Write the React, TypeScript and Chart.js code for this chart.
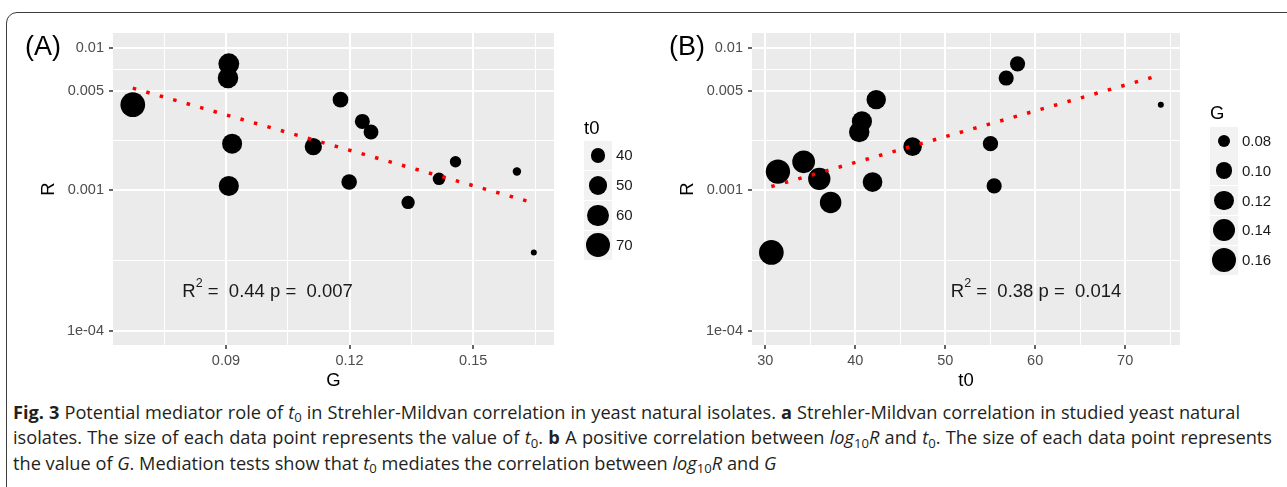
import React, { useEffect, useRef } from 'react';
import { Chart, registerables } from 'chart.js';

Chart.register(...registerables);

// ---------------- DATA ----------------
const G_VALUES = [0.0674, 0.0907, 0.0905, 0.0915, 0.0907, 0.1178, 0.1231, 0.1252, 0.1112, 0.1199, 0.1342, 0.1457, 0.1417, 0.1606, 0.1647];
const T0_VALUES = [73.97, 58.04, 56.78, 55.03, 55.44, 42.33, 40.74, 40.44, 46.37, 41.92, 37.26, 34.26, 36.0, 31.4, 30.67];
const R_VALUES = [0.00398, 0.00774, 0.00614, 0.00211, 0.00106, 0.00432, 0.00303, 0.00255, 0.00201, 0.00113, 0.00081, 0.00157, 0.00119, 0.00134, 0.000359];

// fitted regression lines (end points)
const FIT_A_X = [0.0674, 0.1647];
const FIT_A_R = [0.00521, 0.000803];
const FIT_B_X = [30.67, 73.97];
const FIT_B_R = [0.00105, 0.00646];

// axes
const Y_TICKS = [0.0001, 0.0003162, 0.001, 0.002236, 0.005, 0.007071, 0.01];
const Y_TICK_LABELS = ['1e-04', '', '0.001', '', '0.005', '', '0.01'];
const X_A_TICKS = [0.075, 0.09, 0.105, 0.12, 0.135, 0.15, 0.165];
const X_A_TICK_LABELS = ['', '0.09', '', '0.12', '', '0.15', ''];
const X_B_TICKS = [30, 35, 40, 45, 50, 55, 60, 65, 70, 75];
const X_B_TICK_LABELS = ['30', '', '40', '', '50', '', '60', '', '70', ''];

// legends
const LEGEND_A_VALUES = [40, 50, 60, 70];
const LEGEND_A_LABELS = ['40', '50', '60', '70'];
const LEGEND_B_VALUES = [0.08, 0.1, 0.12, 0.14, 0.16];
const LEGEND_B_LABELS = ['0.08', '0.10', '0.12', '0.14', '0.16'];

// annotations
const ANNOT_A = { x: 0.1001, y: 0.000175, rest: ' =  0.44 p =  0.007' };
const ANNOT_B = { x: 60.1, y: 0.000175, rest: ' =  0.38 p =  0.014' };

// ---------------- STYLE ----------------
const FONT = '"Liberation Sans", Arimo, Arial, sans-serif';
const CAPTION_FONT = '"Open Sans", Lato, sans-serif';

function sizeDiam(v: number, vals: number[]) {
  const mn = Math.min(...vals);
  const mx = Math.max(...vals);
  const r = Math.max(0, Math.min(1, (v - mn) / (mx - mn)));
  return 6 + 18.7 * Math.sqrt(r);
}

type PanelCfg = {
  xVals: number[];
  sizeVals: number[];
  fitX: number[];
  fitR: number[];
  xMin: number;
  xMax: number;
  xTicks: number[];
  xLabels: string[];
  yAxisWidth: number;
  padRight: number;
  xTitle: string;
  annot: { x: number; y: number; rest: string };
};

function makeChart(canvas: HTMLCanvasElement, cfg: PanelCfg) {
  const panelPlugin = {
    id: 'panelDecor',
    beforeDraw(chart: any) {
      const { ctx, chartArea: a } = chart;
      ctx.save();
      ctx.fillStyle = '#EBEBEB';
      ctx.fillRect(a.left, a.top, a.right - a.left, a.bottom - a.top);
      ctx.restore();
    },
    afterDraw(chart: any) {
      const { ctx, chartArea: a } = chart;
      ctx.save();
      ctx.fillStyle = '#000';
      ctx.font = `18.5px ${FONT}`;
      ctx.textAlign = 'center';
      ctx.textBaseline = 'middle';
      ctx.fillText(cfg.xTitle, (a.left + a.right) / 2, a.bottom + 36);
      ctx.save();
      ctx.translate(a.left - 64, (a.top + a.bottom) / 2);
      ctx.rotate(-Math.PI / 2);
      ctx.fillText('R', 0, 0);
      ctx.restore();

      // annotation
      const cx = chart.scales.x.getPixelForValue(cfg.annot.x);
      const by = chart.scales.y.getPixelForValue(cfg.annot.y);
      const big = `18.5px ${FONT}`;
      const small = `12.5px ${FONT}`;
      ctx.font = big;
      const wR = ctx.measureText('R').width;
      const wRest = ctx.measureText(cfg.annot.rest).width;
      ctx.font = small;
      const w2 = ctx.measureText('2').width;
      let x = cx - (wR + w2 + wRest) / 2;
      ctx.textAlign = 'left';
      ctx.textBaseline = 'alphabetic';
      ctx.fillStyle = '#1A1A1A';
      ctx.font = big;
      ctx.fillText('R', x, by);
      x += wR;
      ctx.font = small;
      ctx.fillText('2', x, by - 10);
      x += w2;
      ctx.font = big;
      ctx.fillText(cfg.annot.rest, x, by);
      ctx.restore();
    },
  };

  const pts = cfg.xVals.map((v, i) => ({ x: v, y: R_VALUES[i] }));
  const radii = cfg.sizeVals.map((v) => sizeDiam(v, cfg.sizeVals) / 2);
  const fit = cfg.fitX.map((v, i) => ({ x: v, y: cfg.fitR[i] }));

  const majorX = (i: number) => cfg.xLabels[i] !== '';
  const majorY = (i: number) => Y_TICK_LABELS[i] !== '';

  return new Chart(canvas, {
    type: 'scatter',
    data: {
      datasets: [
        {
          data: fit,
          showLine: true,
          borderColor: '#FF0000',
          borderWidth: 3.5,
          borderDash: [3.5, 10.5],
          borderCapStyle: 'butt',
          pointRadius: 0,
          fill: false,
        } as any,
        {
          data: pts,
          pointRadius: radii,
          pointHoverRadius: radii,
          pointBackgroundColor: '#000000',
          pointBorderWidth: 0,
          pointBorderColor: '#000000',
          showLine: false,
        } as any,
      ],
    },
    options: {
      responsive: false,
      animation: false,
      events: [],
      layout: { padding: { top: 33, right: cfg.padRight, left: 0, bottom: 0 } },
      plugins: { legend: { display: false }, tooltip: { enabled: false } },
      scales: {
        x: {
          type: 'linear',
          min: cfg.xMin,
          max: cfg.xMax,
          afterBuildTicks: (s: any) => {
            s.ticks = cfg.xTicks.map((v) => ({ value: v }));
          },
          afterFit: (s: any) => {
            s.height = 55;
          },
          ticks: {
            autoSkip: false,
            maxRotation: 0,
            padding: 3,
            color: '#4D4D4D',
            font: { family: FONT, size: 14.5 },
            callback: (_v: any, i: number) => cfg.xLabels[i],
          },
          grid: {
            color: '#FFFFFF',
            lineWidth: (c: any) => (majorX(c.index) ? 2 : 1),
            tickColor: (c: any) => (majorX(c.index) ? '#333333' : 'rgba(0,0,0,0)'),
            tickWidth: 1.5,
            tickLength: 4,
            drawTicks: true,
          },
          border: { display: false },
        },
        y: {
          type: 'logarithmic',
          min: 0.0000796,
          max: 0.01278,
          afterBuildTicks: (s: any) => {
            s.ticks = Y_TICKS.map((v) => ({ value: v }));
          },
          afterFit: (s: any) => {
            s.width = cfg.yAxisWidth;
          },
          ticks: {
            autoSkip: false,
            padding: 5,
            color: '#4D4D4D',
            font: { family: FONT, size: 14.5 },
            callback: (_v: any, i: number) => Y_TICK_LABELS[i],
          },
          grid: {
            color: '#FFFFFF',
            lineWidth: (c: any) => (majorY(c.index) ? 2 : 1),
            tickColor: (c: any) => (majorY(c.index) ? '#333333' : 'rgba(0,0,0,0)'),
            tickWidth: 1.5,
            tickLength: 4,
            drawTicks: true,
          },
          border: { display: false },
        },
      },
    },
    plugins: [panelPlugin],
  } as any);
}

function SizeLegend(props: {
  title: string;
  left: number;
  titleY: number;
  firstY: number;
  step: number;
  values: number[];
  labels: string[];
  dataVals: number[];
}) {
  const { title, left, titleY, firstY, step, values, labels, dataVals } = props;
  return (
    <>
      <div
        style={{
          position: 'absolute',
          left,
          top: titleY - 11,
          lineHeight: '22px',
          fontFamily: FONT,
          fontSize: 18.5,
          color: '#000',
        }}
      >
        {title}
      </div>
      {values.map((v, i) => {
        const cy = firstY + i * step;
        const d = sizeDiam(v, dataVals);
        return (
          <React.Fragment key={i}>
            <div
              style={{
                position: 'absolute',
                left,
                top: cy - 14.5,
                width: 28,
                height: 29,
                background: '#F2F2F2',
              }}
            />
            <div
              style={{
                position: 'absolute',
                left: left + 14 - d / 2,
                top: cy - d / 2,
                width: d,
                height: d,
                borderRadius: '50%',
                background: '#000',
              }}
            />
            <div
              style={{
                position: 'absolute',
                left: left + 32,
                top: cy - 10,
                lineHeight: '20px',
                fontFamily: FONT,
                fontSize: 15,
                color: '#1A1A1A',
              }}
            >
              {labels[i]}
            </div>
          </React.Fragment>
        );
      })}
    </>
  );
}

const sub = (s: string) => (
  <span style={{ fontSize: '0.72em', position: 'relative', top: '0.3em' }}>{s}</span>
);

export default function App() {
  const refA = useRef<HTMLCanvasElement | null>(null);
  const refB = useRef<HTMLCanvasElement | null>(null);

  useEffect(() => {
    const a = makeChart(refA.current!, {
      xVals: G_VALUES,
      sizeVals: T0_VALUES,
      fitX: FIT_A_X,
      fitR: FIT_A_R,
      xMin: 0.0626,
      xMax: 0.1696,
      xTicks: X_A_TICKS,
      xLabels: X_A_TICK_LABELS,
      yAxisWidth: 113,
      padRight: 640 - 554,
      xTitle: 'G',
      annot: ANNOT_A,
    });
    const b = makeChart(refB.current!, {
      xVals: T0_VALUES,
      sizeVals: G_VALUES,
      fitX: FIT_B_X,
      fitR: FIT_B_R,
      xMin: 28.52,
      xMax: 76.1,
      xTicks: X_B_TICKS,
      xLabels: X_B_TICK_LABELS,
      yAxisWidth: 112,
      padRight: 647 - 540,
      xTitle: 't0',
      annot: ANNOT_B,
    });
    return () => {
      a.destroy();
      b.destroy();
    };
  }, []);

  const capLine: React.CSSProperties = {
    position: 'absolute',
    left: 13,
    whiteSpace: 'nowrap',
    fontFamily: CAPTION_FONT,
    fontSize: 18.2,
    lineHeight: '25px',
    color: '#231F20',
  };
  const justified: React.CSSProperties = {
    whiteSpace: 'normal',
    textAlign: 'justify',
    textAlignLast: 'justify' as any,
    height: 25,
    overflow: 'visible',
  };

  return (
    <div
      style={{
        position: 'fixed',
        left: 0,
        top: 0,
        width: 1287,
        height: 487,
        overflow: 'hidden',
        background: '#FFFFFF',
      }}
    >
      <div
        style={{
          position: 'absolute',
          left: 6,
          top: 12,
          width: 1320,
          height: 520,
          border: '1.5px solid #3C3C3C',
          borderRadius: 11,
          boxSizing: 'border-box',
        }}
      />
      <canvas
        ref={refA}
        width={640}
        height={400}
        style={{ position: 'absolute', left: 0, top: 0, width: 640, height: 400 }}
      />
      <canvas
        ref={refB}
        width={647}
        height={400}
        style={{ position: 'absolute', left: 640, top: 0, width: 647, height: 400 }}
      />
      <div style={{ position: 'absolute', left: 25, top: 30, fontFamily: FONT, fontSize: 27, lineHeight: '32px', color: '#000' }}>(A)</div>
      <div style={{ position: 'absolute', left: 669, top: 30, fontFamily: FONT, fontSize: 27, lineHeight: '32px', color: '#000' }}>(B)</div>

      <SizeLegend
        title="t0"
        left={584}
        titleY={127.7}
        firstY={155.3}
        step={30}
        values={LEGEND_A_VALUES}
        labels={LEGEND_A_LABELS}
        dataVals={T0_VALUES}
      />
      <SizeLegend
        title="G"
        left={1210}
        titleY={112.7}
        firstY={141}
        step={29.75}
        values={LEGEND_B_VALUES}
        labels={LEGEND_B_LABELS}
        dataVals={G_VALUES}
      />

      <div style={{ ...capLine, ...justified, top: 399.5, width: 1227 }}>
        <b>Fig. 3</b> Potential mediator role of <i>t</i>{sub('0')} in Strehler-Mildvan correlation in yeast natural isolates. <b>a</b> Strehler-Mildvan correlation in studied yeast natural
      </div>
      <div style={{ ...capLine, ...justified, top: 425, width: 1259 }}>
        isolates. The size of each data point represents the value of <i>t</i>{sub('0')}. <b>b</b> A positive correlation between <i>log</i>{sub('10')}<i>R</i> and <i>t</i>{sub('0')}. The size of each data point represents
      </div>
      <div style={{ ...capLine, top: 450.5 }}>
        the value of <i>G</i>. Mediation tests show that <i>t</i>{sub('0')} mediates the correlation between <i>log</i>{sub('10')}<i>R</i> and <i>G</i>
      </div>
    </div>
  );
}
